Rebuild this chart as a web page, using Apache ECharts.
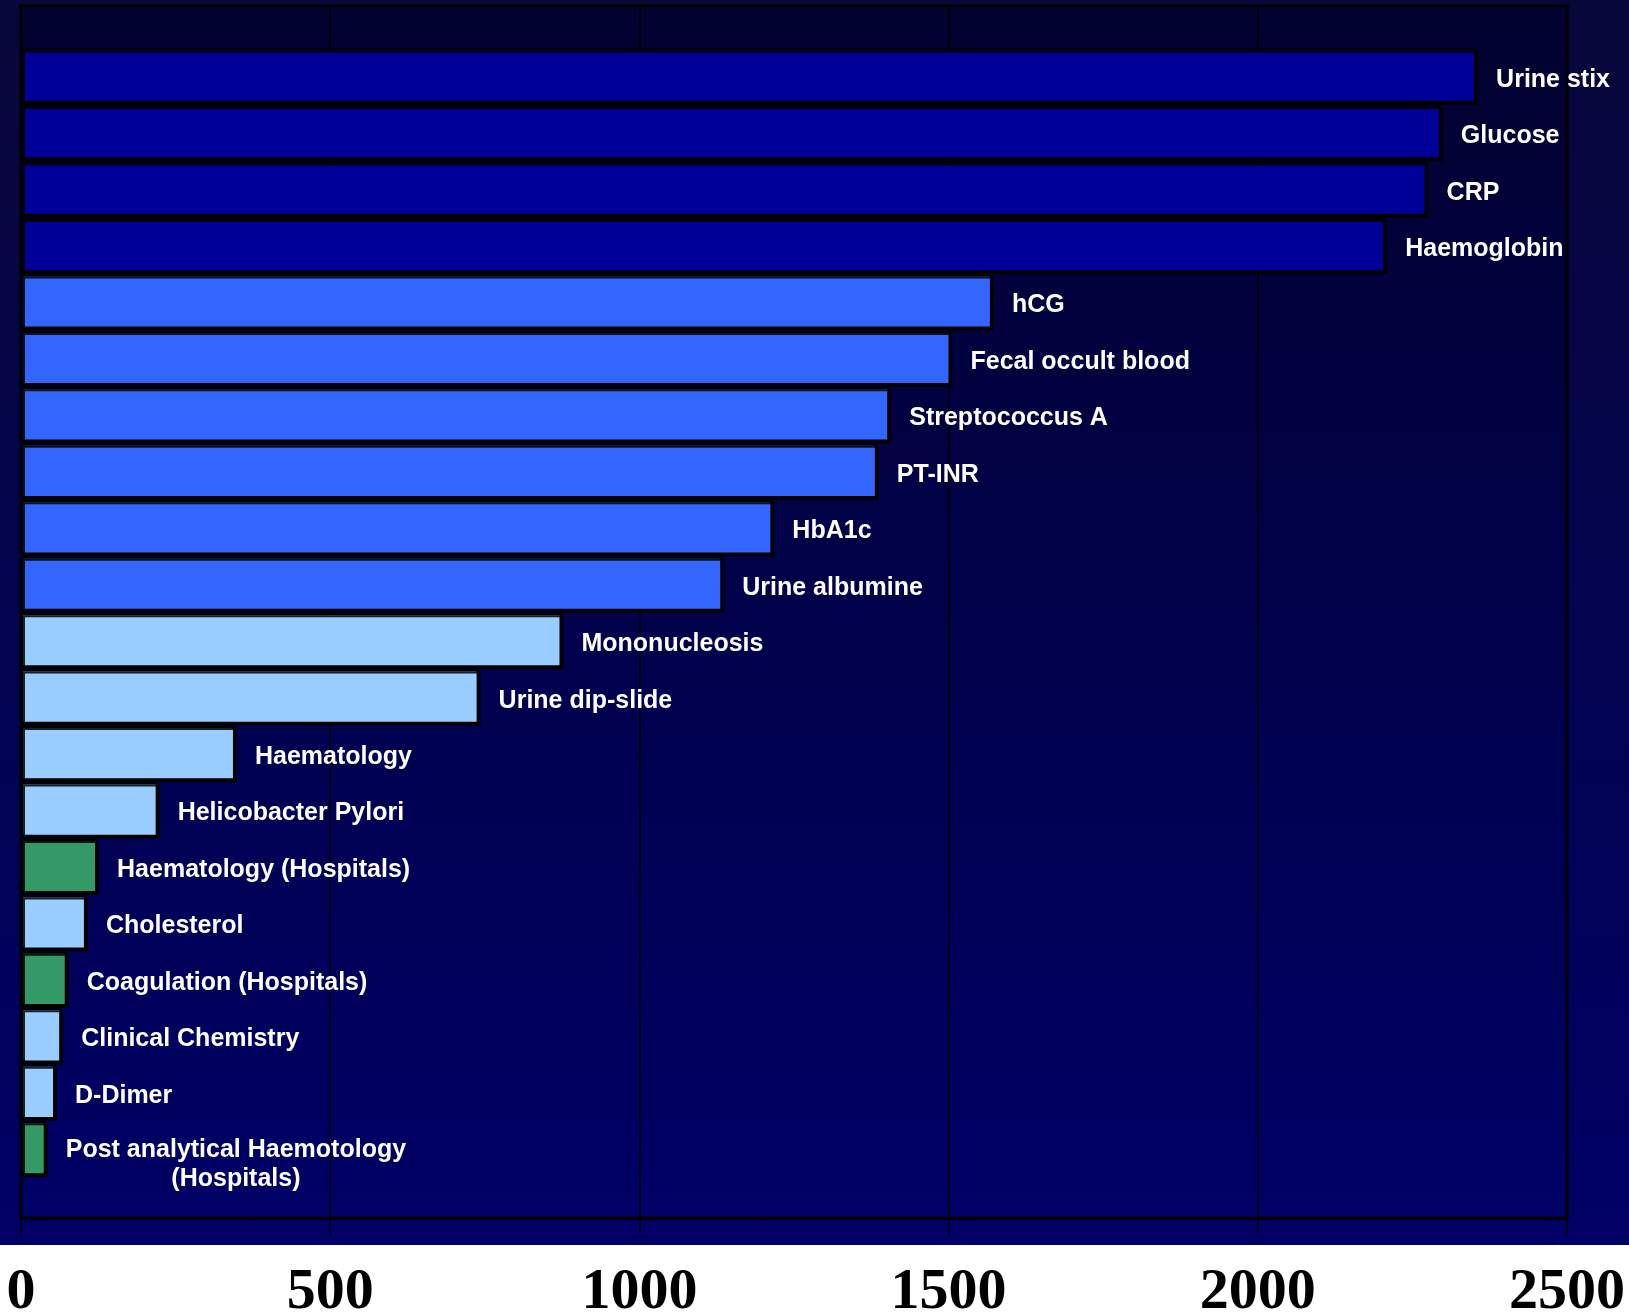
<!DOCTYPE html>
<html>
<head>
<meta charset="utf-8">
<script src="https://cdn.jsdelivr.net/npm/echarts@6/dist/echarts.min.js"></script>
<style>
  html, body { margin: 0; padding: 0; background: #ffffff; overflow: hidden; }
  #chart {
    width: 1629px; height: 1314px;
    background: linear-gradient(to bottom, #07073a 0px, #000066 1245px, #ffffff 1245px, #ffffff 1314px);
  }
</style>
</head>
<body>
<div id="chart"></div>
<script>
// Tests, listed from the largest number of participants to the smallest
const categories = [
  'Urine stix', 'Glucose', 'CRP', 'Haemoglobin', 'hCG', 'Fecal occult blood',
  'Streptococcus A', 'PT-INR', 'HbA1c', 'Urine albumine', 'Mononucleosis',
  'Urine dip-slide', 'Haematology', 'Helicobacter Pylori', 'Haematology (Hospitals)',
  'Cholesterol', 'Coagulation (Hospitals)', 'Clinical Chemistry', 'D-Dimer',
  'Post analytical Haemotology\n(Hospitals)'
];
const participants = [
  2353, 2296, 2273, 2206, 1570, 1503,
  1404, 1384, 1215, 1134, 874,
  740, 346, 221, 123,
  105, 74, 65, 55,
  40
];
// Scheme group of each test
const groups = [
  'major', 'major', 'major', 'major', 'common', 'common',
  'common', 'common', 'common', 'common', 'minor',
  'minor', 'minor', 'minor', 'hospital',
  'minor', 'hospital', 'minor', 'minor',
  'hospital'
];
const axisMin = 0;
const axisMax = 2500;
const axisStep = 500;

const groupColors = {
  major: '#000099',
  common: '#3366ff',
  minor: '#99ccff',
  hospital: '#339966'
};

const labelFont = 'bold 25px "Liberation Sans", Arial, sans-serif';

function firstLineWidth(text) {
  const ctx = document.createElement('canvas').getContext('2d');
  ctx.font = labelFont;
  return ctx.measureText(text.split('\n')[0]).width;
}

const barData = participants.map((v, i) => {
  const item = {
    value: v,
    itemStyle: { color: groupColors[groups[i]] }
  };
  if (categories[i].indexOf('\n') >= 0) {
    // two-line label: lines centred on each other, first line level with the bar
    item.label = {
      align: 'center',
      lineHeight: 29,
      offset: [firstLineWidth(categories[i]) / 2, 16]
    };
  }
  return item;
});

const chart = echarts.init(document.getElementById('chart'), null, { renderer: 'canvas' });

chart.setOption({
  backgroundColor: 'transparent',
  animation: false,
  grid: [
    {
      left: 21, right: 62, top: 6, bottom: 96,
      outerBoundsMode: 'none',
      containLabel: false,
      show: true,
      borderColor: '#000000',
      borderWidth: 3,
      backgroundColor: {
        type: 'linear', x: 0, y: 0, x2: 0, y2: 1,
        colorStops: [
          { offset: 0, color: '#020230' },
          { offset: 1, color: '#000066' }
        ]
      }
    },
    { left: 21, right: 62, top: 47.5, bottom: 137.5, outerBoundsMode: 'none', containLabel: false }
  ],
  xAxis: [
    {
      gridIndex: 0,
      type: 'value',
      min: axisMin, max: axisMax, interval: axisStep,
      axisLine: { show: true, lineStyle: { color: '#000000', width: 3 } },
      axisTick: { show: true, inside: false, length: 17, lineStyle: { color: '#000000', width: 1.5 } },
      splitLine: { show: true, lineStyle: { color: '#000000', width: 1.5 } },
      axisLabel: {
        margin: 46,
        color: '#000000',
        fontFamily: '"Liberation Serif", "Times New Roman", serif',
        fontWeight: 'bold',
        fontSize: 58,
        formatter: v => String(v),
        showMinLabel: true,
        showMaxLabel: true
      }
    },
    {
      gridIndex: 1,
      type: 'value',
      min: axisMin, max: axisMax, interval: axisStep,
      show: false
    }
  ],
  yAxis: [
    { gridIndex: 0, type: 'value', show: false, splitLine: { show: false } },
    {
      gridIndex: 1,
      type: 'category',
      data: categories,
      inverse: true,
      show: false
    }
  ],
  series: [
    {
      type: 'bar',
      xAxisIndex: 1,
      yAxisIndex: 1,
      data: barData,
      barCategoryGap: '4%',
      itemStyle: {
        borderColor: '#000000',
        borderWidth: 2,
        shadowColor: 'rgba(0, 0, 0, 0.85)',
        shadowBlur: 0,
        shadowOffsetX: 2,
        shadowOffsetY: 2
      },
      label: {
        show: true,
        position: 'right',
        distance: 20,
        offset: [0, 4],
        formatter: p => categories[p.dataIndex],
        color: '#ffffff',
        fontFamily: '"Liberation Sans", Arial, sans-serif',
        fontWeight: 'bold',
        fontSize: 25
      }
    }
  ]
});
</script>
</body>
</html>
